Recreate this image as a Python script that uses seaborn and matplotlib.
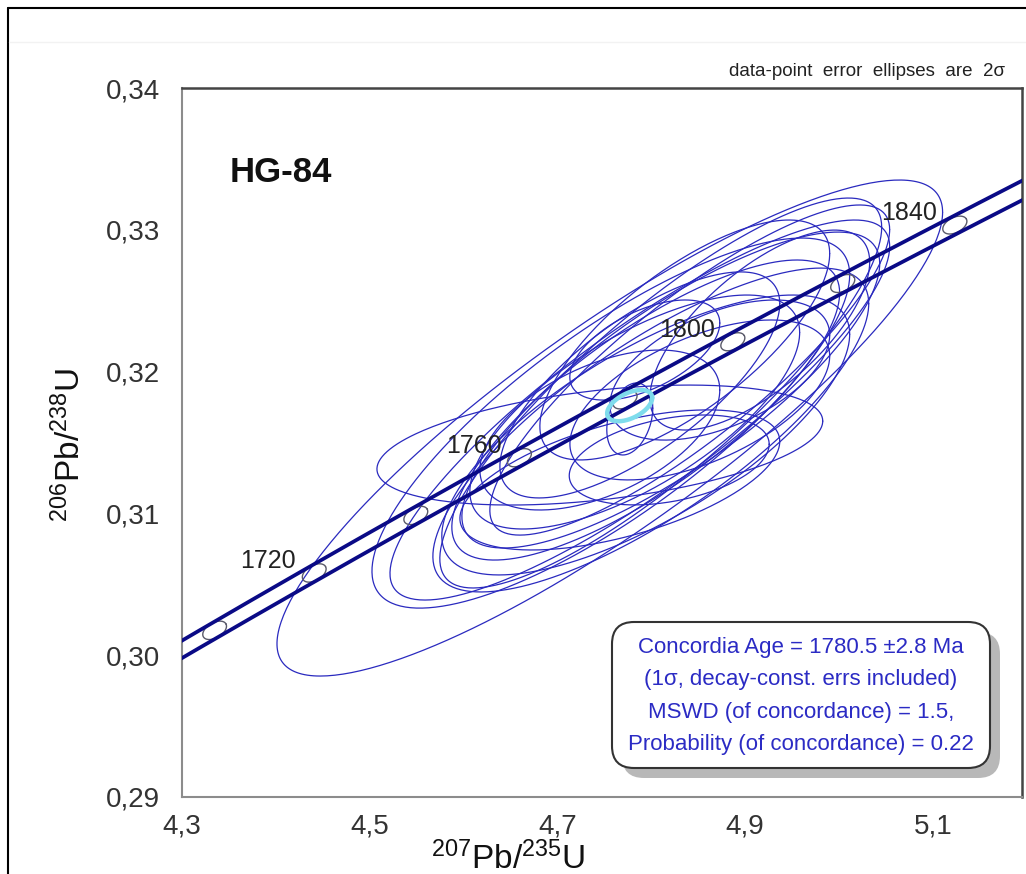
import numpy as np
import pandas as pd
import matplotlib
matplotlib.use("Agg")
import matplotlib.pyplot as plt
import seaborn as sns
from matplotlib.patches import FancyBboxPatch
from matplotlib.lines import Line2D

# ---------------- data ----------------
# error ellipses (2 sigma): centre, half-widths and error correlation
ell_x = [4.7558, 4.8101, 4.7452, 4.7771, 4.7569, 4.7931, 4.8191, 4.7995, 4.7941,
         4.7941, 4.8208, 4.7824, 4.7878, 4.8357, 4.7452, 4.8517, 4.8730, 4.9156, 4.7665,
         4.7878, 4.8410]
ell_y = [0.31602, 0.31849, 0.31482, 0.31666, 0.31637, 0.32152, 0.31377, 0.31588, 0.31553,
         0.31729, 0.31870, 0.31715, 0.31906, 0.32223, 0.31588, 0.31800, 0.32011, 0.32293, 0.31236,
         0.31729, 0.32011]
ell_sx = [0.3546, 0.2354, 0.2375, 0.0245, 0.2545, 0.0799, 0.1065, 0.2322, 0.2173,
          0.2066, 0.2226, 0.1757, 0.1491, 0.1544, 0.1278, 0.1384, 0.1171, 0.1171, 0.1704,
          0.2662, 0.2130]
ell_sy = [0.01749, 0.01375, 0.00423, 0.00254, 0.01305, 0.00353, 0.00317, 0.01142, 0.00987,
          0.01058, 0.01114, 0.00825, 0.00797, 0.00846, 0.00564, 0.00564, 0.00494, 0.00705, 0.00494,
          0.01340, 0.01164]
ell_rho = [0.87, 0.85, 0.40, 0.30, 0.80, 0.54, 0.35, 0.78, 0.72,
           0.78, 0.80, 0.68, 0.72, 0.72, 0.50, 0.55, 0.50, 0.68, 0.55,
           0.86, 0.85]

# concordia age ellipse
age_ell_x, age_ell_y, age_ell_sx, age_ell_sy, age_ell_rho = 4.777, 0.3176, 0.024, 0.0011, 0.5

# concordia
LAMBDA_238 = 1.55125e-10
LAMBDA_235 = 9.8485e-10
band_rel_err = 0.0018
mark_ages = [1700, 1720, 1740, 1760, 1780, 1800, 1820, 1840]
label_ages = [1720, 1760, 1800, 1840]

x_ticks = [4.3, 4.4, 4.5, 4.6, 4.7, 4.8, 4.9, 5.0, 5.1]
x_ticklabels = ["4,3", "", "4,5", "", "4,7", "", "4,9", "", "5,1"]
y_ticks = [0.29, 0.30, 0.31, 0.32, 0.33, 0.34]
y_ticklabels = ["0,29", "0,30", "0,31", "0,32", "0,33", "0,34"]
y_minor = [0.295, 0.305, 0.315, 0.325, 0.335]

sample = "HG-84"
note = "data-point  error  ellipses  are  2σ"
box_lines = ["Concordia Age = 1780.5 ±2.8 Ma",
             "(1σ, decay-const. errs included)",
             "MSWD (of concordance) = 1.5,",
             "Probability (of concordance) = 0.22"]

# ---------------- style ----------------
sns.set_theme(style="white")
plt.rcParams["font.family"] = ["Liberation Sans", "DejaVu Sans"]
plt.rcParams["mathtext.fontset"] = "custom"
plt.rcParams["mathtext.rm"] = "Liberation Sans"
plt.rcParams["mathtext.it"] = "Liberation Sans:italic"
plt.rcParams["mathtext.bf"] = "Liberation Sans:bold"

W, H = 1026, 874
fig = plt.figure(figsize=(W / 100, H / 100), dpi=100)
fig.patch.set_facecolor("white")
ax = fig.add_axes([182 / W, 1 - 797 / H, (1022 - 182) / W, (797 - 88) / H])
ax.set_xlim(4.3, 5.195)
ax.set_ylim(0.29, 0.34)

ELL_COL = "#2a2abf"
CONC_COL = "#0a0a86"

# error ellipses
tt = np.linspace(0, 2 * np.pi, 300)
rows = []
for i, (cx, cy, sx, sy, r) in enumerate(zip(ell_x, ell_y, ell_sx, ell_sy, ell_rho)):
    ex = cx + sx * np.cos(tt)
    ey = cy + sy * (r * np.cos(tt) + np.sqrt(1 - r * r) * np.sin(tt))
    rows.append(pd.DataFrame({"x": ex, "y": ey, "id": i}))
edf = pd.concat(rows, ignore_index=True)
sns.lineplot(data=edf, x="x", y="y", units="id", estimator=None, sort=False,
             color=ELL_COL, linewidth=0.9, ax=ax, legend=False, zorder=2)

# concordia band
ages = np.linspace(1600, 1950, 400) * 1e6
cdf = []
for b, f in (("upper", 1 - band_rel_err), ("lower", 1 + band_rel_err)):
    cdf.append(pd.DataFrame({"x": np.exp(LAMBDA_235 * f * ages) - 1,
                             "y": np.exp(LAMBDA_238 * ages) - 1, "band": b}))
cdf = pd.concat(cdf, ignore_index=True)

# age markers (small ellipses on concordia)
fig.canvas.draw()
tr = ax.transData
inv = tr.inverted()
for a in mark_ages:
    t = a * 1e6
    c = np.array([np.exp(LAMBDA_235 * t) - 1, np.exp(LAMBDA_238 * t) - 1])
    c2 = np.array([np.exp(LAMBDA_235 * (t + 1e6)) - 1, np.exp(LAMBDA_238 * (t + 1e6)) - 1])
    p, p2 = tr.transform(c), tr.transform(c2)
    u = (p2 - p) / np.linalg.norm(p2 - p)
    v = np.array([-u[1], u[0]])
    ang = np.linspace(0, 2 * np.pi, 80)
    pts = p[None, :] + 13 * np.cos(ang)[:, None] * u[None, :] + 7.5 * np.sin(ang)[:, None] * v[None, :]
    d = inv.transform(pts)
    ax.plot(d[:, 0], d[:, 1], color="#5a5a6a", lw=1.0, zorder=3)
    if a in label_ages:
        ax.annotate(str(a), xy=c, xytext=(-33, 8.5), textcoords="offset points",
                    ha="center", va="center", fontsize=18, color="#222222", zorder=6)

sns.lineplot(data=cdf, x="x", y="y", units="band", estimator=None, sort=False,
             color=CONC_COL, linewidth=2.7, ax=ax, legend=False, zorder=4)

# concordia age ellipse
ax_e = age_ell_x + age_ell_sx * np.cos(tt)
ay_e = age_ell_y + age_ell_sy * (age_ell_rho * np.cos(tt) + np.sqrt(1 - age_ell_rho ** 2) * np.sin(tt))
ax.plot(ax_e, ay_e, color="#7fdcec", lw=3.2, zorder=5)

ax.set_xlim(4.3, 5.195)
ax.set_ylim(0.29, 0.34)

# ticks
ax.set_xticks(x_ticks)
ax.set_xticklabels(x_ticklabels)
ax.set_yticks(y_ticks)
ax.set_yticklabels(y_ticklabels)
ax.set_yticks(y_minor, minor=True)
ax.tick_params(axis="both", which="both", direction="in", colors="#8a8a8a",
               width=1.0, labelcolor="#333333", labelsize=20)
ax.tick_params(axis="x", which="both", length=7, pad=12)
ax.tick_params(axis="y", which="both", length=5, pad=16)
ax.set_xlabel("")
ax.set_ylabel("")
for s in ("left", "bottom"):
    ax.spines[s].set_color("#8c8c8c")
    ax.spines[s].set_linewidth(1.5)
for s in ("top", "right"):
    ax.spines[s].set_color("#444444")
    ax.spines[s].set_linewidth(1.8)

# texts
ax.text((230 - 182) / 840, (797 - 172) / 709, sample, transform=ax.transAxes,
        fontsize=25, fontweight="bold", color="#111111", ha="left", va="center")
fig.text(1005 / W, 1 - 72 / H, note, fontsize=13.5, color="#222222", ha="right", va="center")
fig.text(508 / W, 1 - 869 / H, r"$\mathregular{^{207}}$Pb/$\mathregular{^{235}}$U",
         fontsize=24, color="#111111", ha="center", va="baseline")
fig.text(70 / W, 1 - 445 / H, r"$\mathregular{^{206}}$Pb/$\mathregular{^{238}}$U",
         fontsize=24, color="#111111", ha="center", va="center", rotation=90)

# result box with shadow
shadow = FancyBboxPatch((6.22, 0.96), 3.78, 1.46, boxstyle="round,pad=0,rounding_size=0.22",
                        transform=fig.dpi_scale_trans, facecolor="#b8b8b8", edgecolor="none",
                        zorder=10)
box = FancyBboxPatch((6.12, 1.06), 3.78, 1.46, boxstyle="round,pad=0,rounding_size=0.22",
                     transform=fig.dpi_scale_trans, facecolor="white", edgecolor="#333333",
                     linewidth=1.5, zorder=11)
fig.patches.extend([shadow, box])
fig.text(801 / W, 1 - 696 / H, "\n".join(box_lines), fontsize=16, color="#2b2bc4",
         ha="center", va="center", linespacing=1.72, zorder=12)

# outer frame
fig.add_artist(Line2D([8 / W, 8 / W], [0, 1 - 8 / H], transform=fig.transFigure, color="black", lw=1.5))
fig.add_artist(Line2D([8 / W, 1], [1 - 8 / H, 1 - 8 / H], transform=fig.transFigure, color="black", lw=1.5))
fig.add_artist(Line2D([9 / W, 1], [1 - 42 / H, 1 - 42 / H], transform=fig.transFigure, color="#f2f2f2", lw=1.0))

fig.savefig("out.png", dpi=100, facecolor="white")
